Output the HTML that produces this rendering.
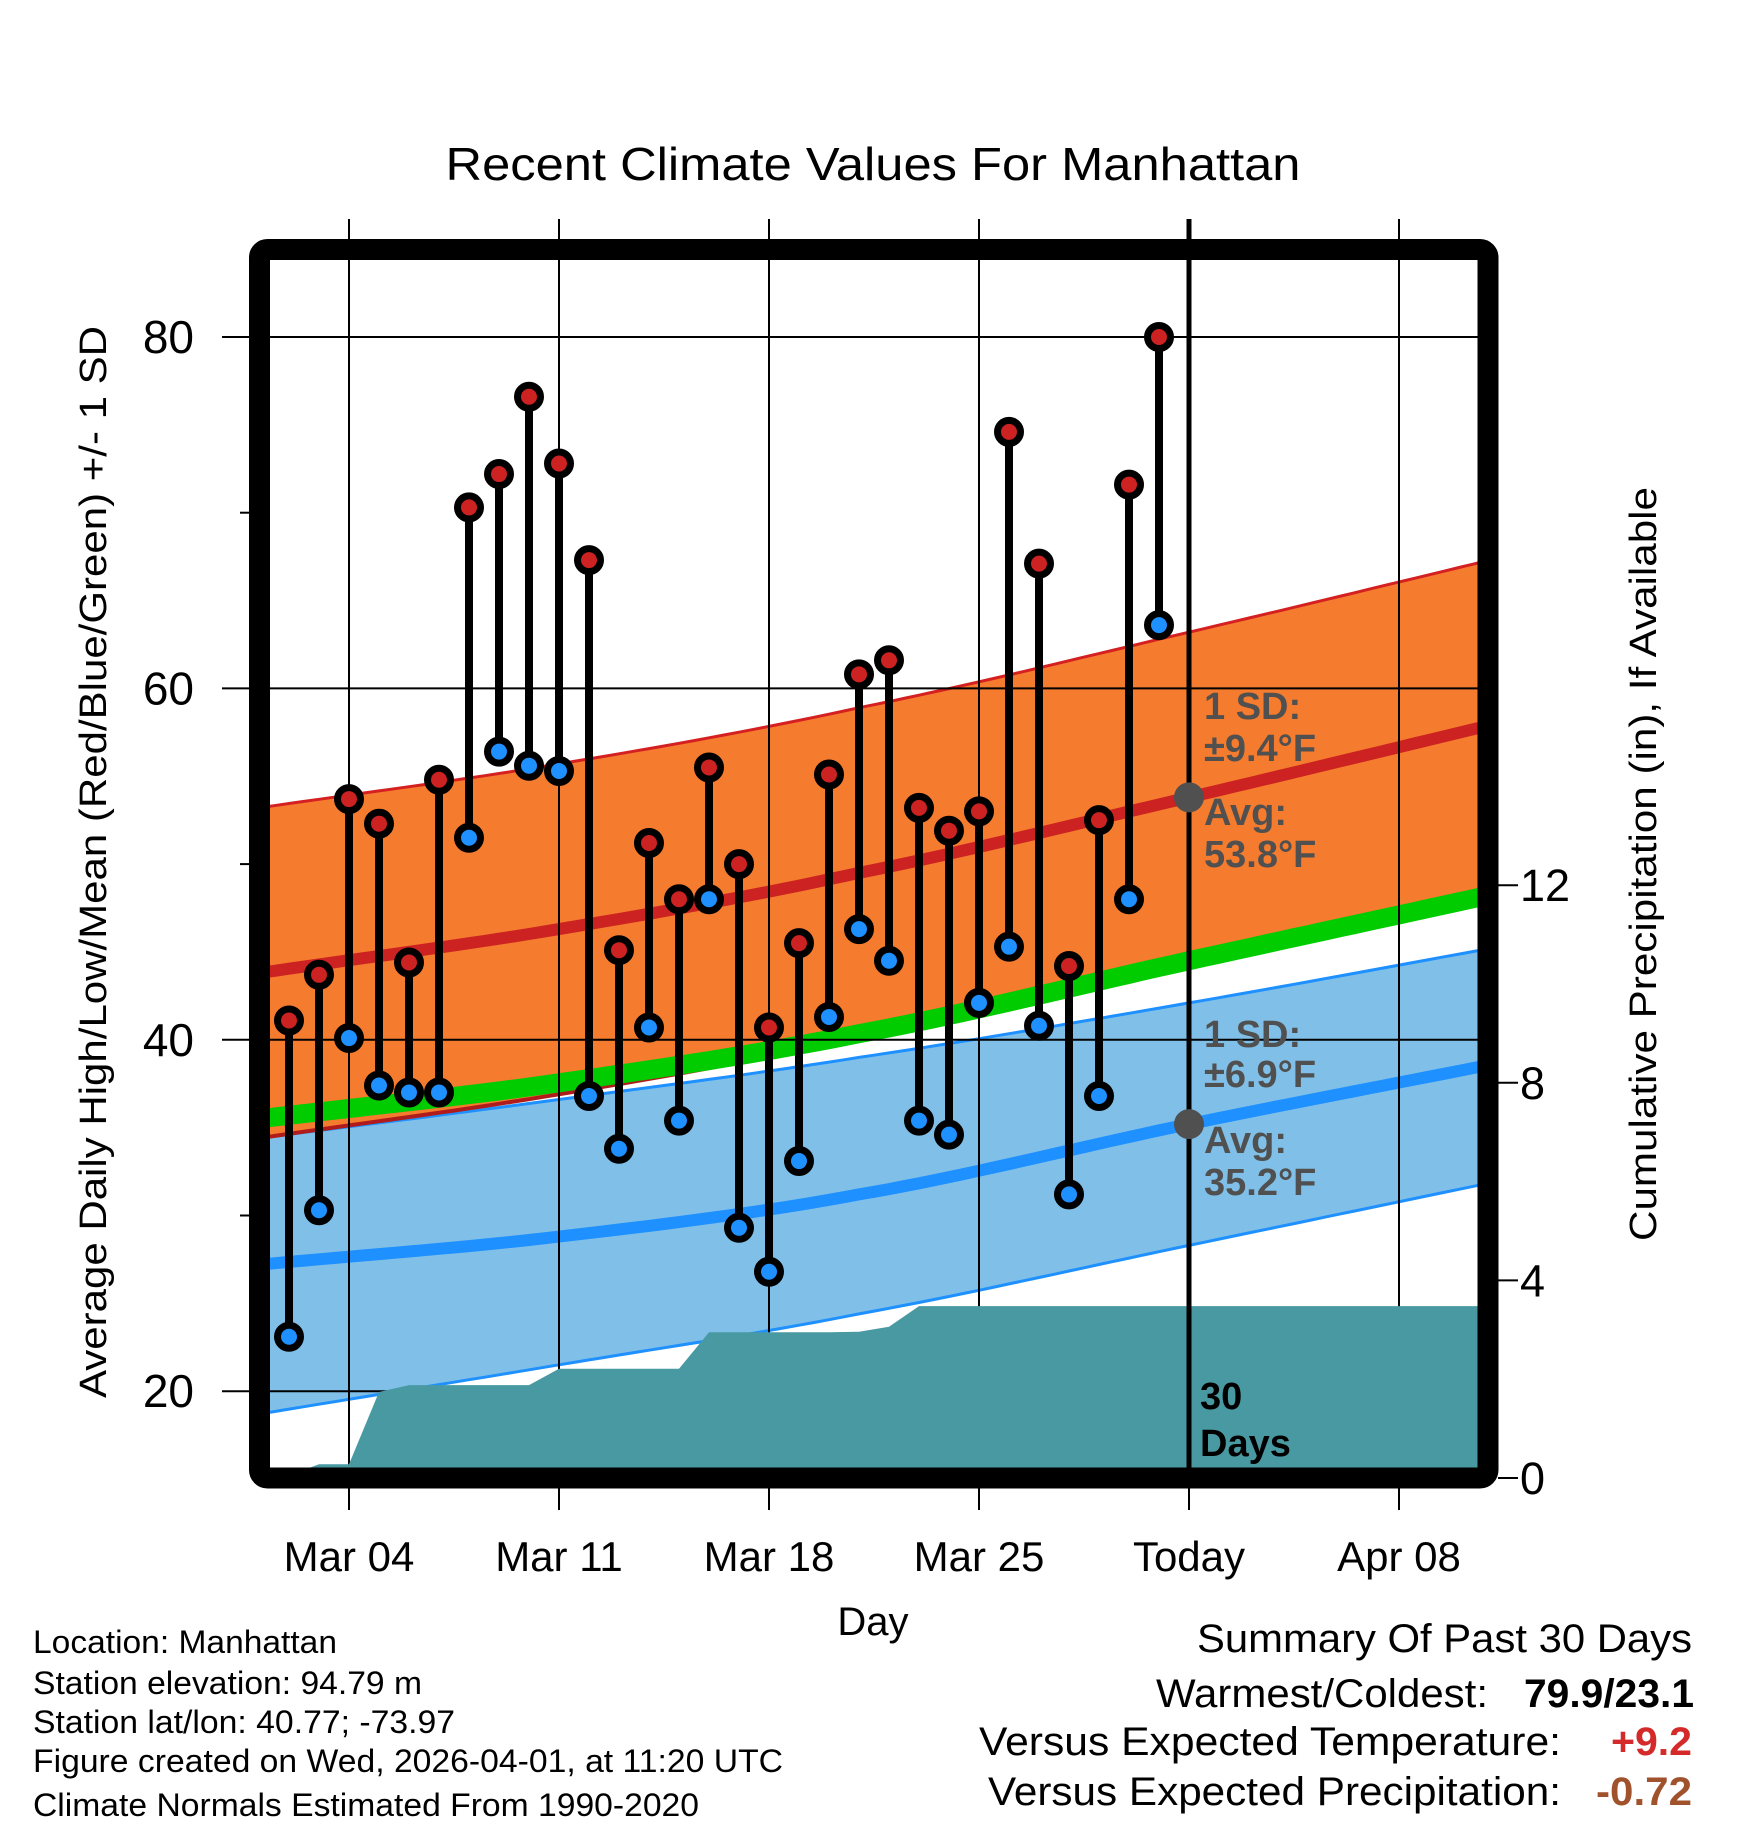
<!DOCTYPE html>
<html><head><meta charset="utf-8"><style>
html,body{margin:0;padding:0;background:#fff}
svg{display:block;font-family:"Liberation Sans",sans-serif}
</style></head><body>
<svg id="chart" width="1748" height="1828" viewBox="0 0 1748 1828" xmlns="http://www.w3.org/2000/svg">
<defs><clipPath id="plotclip"><rect x="270" y="260" width="1208" height="1208"/></clipPath></defs>
<text x="873" y="180" font-size="46" text-anchor="middle" textLength="855" lengthAdjust="spacingAndGlyphs">Recent Climate Values For Manhattan</text>
<g id="plot" clip-path="url(#plotclip)"></g>
<g id="grid"></g>
<g id="over"></g>
<rect x="259.5" y="249.5" width="1228.5" height="1228.5" rx="8" fill="none" stroke="#000" stroke-width="21"/>
<g id="labels"></g>
<text transform="translate(106,862) rotate(-90)" font-size="38" text-anchor="middle" textLength="1072" lengthAdjust="spacingAndGlyphs">Average Daily High/Low/Mean (Red/Blue/Green) +/- 1 SD</text>
<text transform="translate(1656,864) rotate(-90)" font-size="38" text-anchor="middle" textLength="754" lengthAdjust="spacingAndGlyphs">Cumulative Precipitation (in), If Available</text>
<text x="873" y="1635" font-size="40" text-anchor="middle">Day</text>
<g font-size="32">
<text x="33" y="1653" textLength="304" lengthAdjust="spacingAndGlyphs">Location: Manhattan</text>
<text x="33" y="1694" textLength="389" lengthAdjust="spacingAndGlyphs">Station elevation: 94.79 m</text>
<text x="33" y="1733" textLength="422" lengthAdjust="spacingAndGlyphs">Station lat/lon: 40.77; -73.97</text>
<text x="33" y="1772" textLength="750" lengthAdjust="spacingAndGlyphs">Figure created on Wed, 2026-04-01, at 11:20 UTC</text>
<text x="33" y="1816" textLength="666" lengthAdjust="spacingAndGlyphs">Climate Normals Estimated From 1990-2020</text>
</g>
<g font-size="40">
<text x="1197" y="1652" textLength="495" lengthAdjust="spacingAndGlyphs">Summary Of Past 30 Days</text>
<text x="1156" y="1707" textLength="332" lengthAdjust="spacingAndGlyphs">Warmest/Coldest:</text>
<text x="1524" y="1707" font-weight="bold" textLength="170" lengthAdjust="spacingAndGlyphs">79.9/23.1</text>
<text x="979" y="1755" textLength="582" lengthAdjust="spacingAndGlyphs">Versus Expected Temperature:</text>
<text x="1611" y="1755" font-weight="bold" fill="#d42a2a" textLength="81" lengthAdjust="spacingAndGlyphs">+9.2</text>
<text x="988" y="1805" textLength="573" lengthAdjust="spacingAndGlyphs">Versus Expected Precipitation:</text>
<text x="1596" y="1805" font-weight="bold" fill="#a0522d" textLength="96" lengthAdjust="spacingAndGlyphs">-0.72</text>
</g>
</svg>
<script>
// Observed data, Mar 2 .. Mar 31 (day index: Mar 1 = 0)
const obsDays = [1,2,3,4,5,6,7,8,9,10,11,12,13,14,15,16,17,18,19,20,21,22,23,24,25,26,27,28,29,30];
const highs = [41.1,43.7,53.7,52.3,44.4,54.8,70.3,72.2,76.6,72.8,67.3,45.1,51.2,48.0,55.5,50.0,40.7,45.5,55.1,60.8,61.6,53.2,51.9,53.0,74.6,67.1,44.2,52.5,71.6,80.0];
const lows = [23.1,30.3,40.1,37.4,37.0,37.0,51.5,56.4,55.6,55.3,36.8,33.8,40.7,35.4,48.0,29.3,26.8,33.1,41.3,46.3,44.5,35.4,34.6,42.1,45.3,40.8,31.2,36.8,48.0,63.6];
// Cumulative precipitation (in), Mar 1 .. Mar 31
const precipDays = [0,1,2,3,4,5,6,7,8,9,10,11,12,13,14,15,16,17,18,19,20,21,22,23,24,25,26,27,28,29,30];
const precip = [0,0.05,0.28,0.28,1.74,1.88,1.88,1.88,1.88,1.88,2.21,2.21,2.21,2.21,2.21,2.95,2.95,2.95,2.95,2.95,2.96,3.06,3.48,3.48,3.48,3.48,3.48,3.48,3.48,3.48,3.48];
// Climate normals at knot days
const normDays = [0,10,20,31,42];
const normHigh = [43.8,46.3,49.5,53.8,58.3];
const normLow = [27.2,28.8,31.2,35.2,38.9];
const lowBandUpper = [34.4,36.6,39.0,42.1,45.5];
const lowBandLower = [18.7,21.5,24.4,28.3,32.2];
const sdHigh = 9.4, sdLow = 6.9;
const todayDay = 31;
const xTickDays = [3,10,17,24,31,38];
const xTickLabels = ["Mar 04","Mar 11","Mar 18","Mar 25","Today","Apr 08"];
const yTicks = [20,40,60,80];
const yMinor = [30,50,70];
const pTicks = [0,4,8,12];

const NS="http://www.w3.org/2000/svg";
const X = d => 259 + d*30;
const Y = v => 337 + (80 - v)*17.57;
const PY = p => 1478 - p*49.4;
function mk(tag, attrs, parent){const e=document.createElementNS(NS,tag);for(const k in attrs)e.setAttribute(k,attrs[k]);parent.appendChild(e);return e;}
function interp(arr, d){
  let i=0; while(i<normDays.length-2 && d>normDays[i+1]) i++;
  const x0=normDays[i],x1=normDays[i+1];const t=(d-x0)/(x1-x0);
  const p1=arr[i],p2=arr[i+1];
  const p0=i>0?arr[i-1]:2*p1-p2, p3=i+2<arr.length?arr[i+2]:2*p2-p1;
  const t2=t*t,t3=t2*t;
  return 0.5*((2*p1)+(-p0+p2)*t+(2*p0-5*p1+4*p2-p3)*t2+(-p0+3*p1-3*p2+p3)*t3);
}
const samples=[];for(let d=0;d<=42;d+=0.5)samples.push(d);
function line(arr,off){return samples.map(d=>X(d).toFixed(1)+","+Y(interp(arr,d)+off).toFixed(1)).join(" ");}
function band2(up,lo){return line(up,0)+" "+samples.slice().reverse().map(d=>X(d).toFixed(1)+","+Y(interp(lo,d)).toFixed(1)).join(" ");}
const highUp=normHigh.map(v=>v+sdHigh), highLo=normHigh.map(v=>v-sdHigh);

const plot=document.getElementById('plot');
let e;
e=mk('polygon',{points:band2(lowBandUpper,lowBandLower),fill:'#80c0e8'},plot);


e=mk('polyline',{points:line(lowBandUpper,0),fill:'none',stroke:'#1e90ff','stroke-width':3},plot);


e=mk('polyline',{points:line(lowBandLower,0),fill:'none',stroke:'#1e90ff','stroke-width':3},plot);


e=mk('polygon',{points:band2(highUp,highLo),fill:'#f57b2e'},plot);


e=mk('polyline',{points:line(highUp,0),fill:'none',stroke:'#d42020','stroke-width':3},plot);


e=mk('polyline',{points:line(highLo,0),fill:'none',stroke:'#b01c1c','stroke-width':4},plot);


const meanArr=normHigh.map((h,i)=>(h+normLow[i])/2);
e=mk('polyline',{points:line(meanArr,0),fill:'none',stroke:'#00cc00','stroke-width':19},plot);


e=mk('polyline',{points:line(normHigh,0),fill:'none',stroke:'#cc2222','stroke-width':12},plot);


e=mk('polyline',{points:line(normLow,0),fill:'none',stroke:'#1e90ff','stroke-width':12},plot);



const gridG=mk('g',{},plot);
xTickDays.forEach(d=>{const g=mk('line',{x1:X(d),x2:X(d),y1:219,y2:1510,stroke:'#000','stroke-width':2},gridG);

});
yTicks.forEach(v=>{const g=mk('line',{x1:222,x2:1478,y1:Y(v),y2:Y(v),stroke:'#000','stroke-width':2},gridG);

});

let pts=precipDays.map((d,i)=>X(d)+","+PY(precip[i]).toFixed(1));
pts.push(X(42)+","+PY(precip[precip.length-1]).toFixed(1));
pts.push(X(42)+","+PY(0));pts.push(X(0)+","+PY(0));
e=mk('polygon',{points:pts.join(" "),fill:'#4899a2'},plot);



const grid=document.getElementById('grid');
xTickDays.forEach(d=>{[[219,250],[1488,1510]].forEach(r=>{const t=mk('line',{x1:X(d),x2:X(d),y1:r[0],y2:r[1],stroke:'#000','stroke-width':2},grid);

});});
yTicks.forEach(v=>{const t=mk('line',{x1:222,x2:250,y1:Y(v),y2:Y(v),stroke:'#000','stroke-width':2},grid);

});
yMinor.forEach(v=>{const t=mk('line',{x1:240,x2:250,y1:Y(v),y2:Y(v),stroke:'#000','stroke-width':2},grid);

});
pTicks.forEach(p=>{const t=mk('line',{x1:1498,x2:1518,y1:PY(p),y2:PY(p),stroke:'#000','stroke-width':2},grid);

});

const over=document.getElementById('over');
e=mk('line',{x1:X(todayDay),x2:X(todayDay),y1:219,y2:1468,stroke:'#000','stroke-width':5},over);


obsDays.forEach((d,i)=>{
  const s=mk('line',{x1:X(d),x2:X(d),y1:Y(highs[i]),y2:Y(lows[i]),stroke:'#000','stroke-width':8},over);
  
  
  const h=mk('circle',{cx:X(d),cy:Y(highs[i]),r:11.5,fill:'#cc2222',stroke:'#000','stroke-width':7},over);
  
  
  const l=mk('circle',{cx:X(d),cy:Y(lows[i]),r:11.5,fill:'#1e90ff',stroke:'#000','stroke-width':7},over);
  
  
});
const tHigh=normHigh[normDays.indexOf(todayDay)], tLow=normLow[normDays.indexOf(todayDay)];
e=mk('circle',{cx:X(todayDay),cy:Y(tHigh),r:15,fill:'#505050'},over);


e=mk('circle',{cx:X(todayDay),cy:Y(tLow),r:15,fill:'#505050'},over);


function txt(x,y,s,attrs,name){const t=mk('text',Object.assign({x:x,y:y},attrs),over);t.textContent=s;return t;}
const ann={'font-size':38,'font-weight':'bold',fill:'#505050'};
txt(1204,719,"1 SD:",ann,'high-sd-label');
txt(1204,761,"\u00b1"+sdHigh.toFixed(1)+"\u00b0F",ann,'high-sd-value');
txt(1204,825,"Avg:",ann,'high-avg-label');
txt(1204,867,tHigh.toFixed(1)+"\u00b0F",ann,'high-avg-value');
txt(1204,1047,"1 SD:",ann,'low-sd-label');
txt(1204,1087,"\u00b1"+sdLow.toFixed(1)+"\u00b0F",ann,'low-sd-value');
txt(1204,1153,"Avg:",ann,'low-avg-label');
txt(1204,1195,tLow.toFixed(1)+"\u00b0F",ann,'low-avg-value');
txt(1200,1409,"30",{'font-size':38,'font-weight':'bold'},'days-count-label');
txt(1200,1456,"Days",{'font-size':38,'font-weight':'bold'},'days-label');

const labels=document.getElementById('labels');
function lab(x,y,s,attrs,name){const t=mk('text',Object.assign({x:x,y:y},attrs),labels);t.textContent=s;}
xTickDays.forEach((d,i)=>lab(X(d),1571,xTickLabels[i],{'font-size':42,'text-anchor':'middle'},'x-tick-label'));
yTicks.forEach(v=>lab(194,Y(v)+16,String(v),{'font-size':46,'text-anchor':'end'},'y-tick-label'));
pTicks.forEach(p=>lab(1520,PY(p)+16,String(p),{'font-size':45},'y2-tick-label'));
</script>
</body></html>
